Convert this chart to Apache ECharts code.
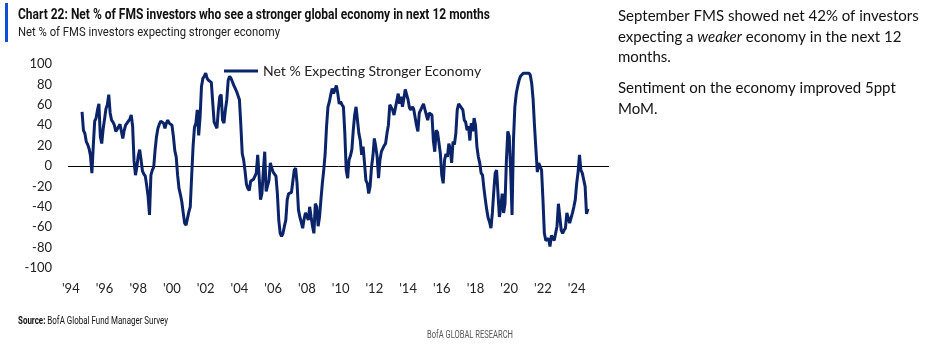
<!DOCTYPE html>
<html>
<head>
<meta charset="utf-8">
<script src="https://cdn.jsdelivr.net/npm/echarts@6/dist/echarts.min.js"></script>
<style>
html,body{margin:0;padding:0;background:#fff;}
#chart{width:945px;height:346px;}
</style>
</head>
<body>
<div id="chart"></div>
<script>
// ---- data (monthly, first value = Sep 1994, last = Sep 2024) ----
const firstYear = 1994, firstMonth = 9;
const axisStart = [1993, 11], axisEnd = [2025, 12];
const v1994 = [53, 35, 32, 24];
const v1995 = [21, 17, 10, -7, 20, 44, 47, 55, 61, 29, 22, 36];
const v1996 = [46, 56, 60, 70, 52, 45, 43, 40, 34, 36, 37, 41];
const v1997 = [42, 27, 35, 40, 41, 44, 46, 50, 39, 5, -9, -1];
const v1998 = [10, 16, 6, -5, -8, -10, -19, -30, -48, -9, -4, -1];
const v1999 = [16, 29, 37, 41, 44, 45, 42, 37, 42, 45, 42, 41];
const v2000 = [40, 29, 15, 9, -9, -22, -28, -35, -46, -56, -58, -58];
const v2001 = [-45, -40, -10, 19, 38, 42, 55, 30, 48, 78, 86, 88];
const v2002 = [91, 86, 84, 84, 82, 62, 43, 43, 37, 55, 68, 70];
const v2003 = [45, 42, 55, 65, 84, 88, 86, 86, 79, 76, 73, 74];
const v2004 = [65, 40, 12, 6, -5, -18, -22, -24, -15, -14, -13, -12];
const v2005 = [-7, 11, -10, -33, -27, -5, 14, -25, -24, -14, 3, -2];
const v2006 = [-6, -6, -10, -27, -53, -66, -69, -66, -59, -53, -33, -27];
const v2007 = [-27, -26, -25, -4, -2, -17, -43, -50, -55, -61, -52, -46];
const v2008 = [-45, -53, -40, -50, -59, -66, -37, -40, -59, -50, -33, -17];
const v2009 = [-4, 12, 39, 58, 63, 70, 76, 71, 75, 79, 71, 61];
const v2010 = [63, 60, 58, 32, -4, -12, 6, 10, 16, 35, 50, 58];
const v2011 = [45, 32, 25, 11, 19, 3, -14, -17, -27, -20, -1, 10];
const v2012 = [27, 19, 9, -12, 6, 14, 17, 20, 22, 32, 40, 60];
const v2013 = [61, 55, 50, 57, 64, 71, 61, 68, 58, 66, 75, 70];
const v2014 = [65, 57, 55, 58, 56, 55, 40, 34, 52, 55, 58, 61];
const v2015 = [60, 50, 45, 52, 51, 50, 25, 14, 35, 33, 32, 12];
const v2016 = [-9, -17, 6, 12, 9, 22, 17, 3, 24, 21, 32, 55];
const v2017 = [61, 60, 57, 55, 45, 43, 35, 39, 25, 42, 34, 47];
const v2018 = [40, 19, 9, 3, -7, -9, -22, -33, -43, -51, -55, -61];
const v2019 = [-46, -25, -7, -4, -27, -50, -40, -27, -46, -37, 6, 34];
const v2020 = [29, -4, -48, 25, 58, 71, 78, 84, 88, 89, 91, 91];
const v2021 = [91, 92, 91, 89, 81, 65, 39, 16, -6, 3, 4, -4];
const v2022 = [-33, -66, -73, -74, -71, -79, -68, -69, -73, -73, -59, -37];
const v2023 = [-50, -63, -66, -63, -61, -46, -46, -56, -55, -46, -40, -33];
const v2024 = [-17, -6, 11, -4, -7, -8, -20, -47, -42];
const seriesName = 'Net % Expecting Stronger Economy';
const yTicks = {min: -100, max: 100, step: 20};

const values = [].concat(v1994, v1995, v1996, v1997, v1998, v1999, v2000, v2001, v2002, v2003,
  v2004, v2005, v2006, v2007, v2008, v2009, v2010, v2011, v2012, v2013, v2014, v2015, v2016,
  v2017, v2018, v2019, v2020, v2021, v2022, v2023, v2024);

// month categories
const categories = [];
let y = axisStart[0], m = axisStart[1];
while (y < axisEnd[0] || (y === axisEnd[0] && m <= axisEnd[1])) {
  categories.push(y + '-' + String(m).padStart(2, '0'));
  m++; if (m > 12) { m = 1; y++; }
}
const firstKey = firstYear + '-' + String(firstMonth).padStart(2, '0');
const offset = categories.indexOf(firstKey);
const seriesData = categories.map((c, i) => {
  const k = i - offset;
  return (k >= 0 && k < values.length) ? values[k] : null;
});

// condensed text helper: scale horizontally to a target width
const mctx = document.createElement('canvas').getContext('2d');
function fitScale(text, font, target) {
  mctx.font = font;
  const w = mctx.measureText(text).width;
  return w > 0 ? target / w : 1;
}
const titleText = 'Chart 22: Net % of FMS investors who see a stronger global economy in next 12 months';
const titleFont = 'bold 14px Roboto';
const subText = 'Net % of FMS investors expecting stronger economy';
const subFont = '13px Roboto';
const srcB = 'Source:', srcN = ' BofA Global Fund Manager Survey';
const footText = 'BofA GLOBAL RESEARCH';
const footFont = '10px Roboto';
mctx.font = 'bold 10px Roboto'; const wb = mctx.measureText(srcB).width;
mctx.font = '10px Roboto'; const wn = mctx.measureText(srcN).width;
const srcScale = 150 / (wb + wn);

const chart = echarts.init(document.getElementById('chart'));
const axisFont = 'Lato';
chart.setOption({
  animation: false,
  grid: {left: 68, right: 336, top: 64, bottom: 78, containLabel: false},
  legend: {
    show: true, left: 219, top: 59, icon: 'rect', itemWidth: 34, itemHeight: 3,
    textStyle: {fontFamily: axisFont, fontSize: 14, color: '#222'},
    data: [seriesName]
  },
  xAxis: {
    type: 'category', data: categories, boundaryGap: false,
    axisLine: {show: false, onZero: false}, axisTick: {show: false},
    splitLine: {show: false},
    axisLabel: {
      margin: 14, fontFamily: axisFont, fontSize: 13, color: '#222',
      interval: (i, v) => v.endsWith('-01') && (parseInt(v) % 2 === 0),
      formatter: v => "'" + v.slice(2, 4)
    }
  },
  yAxis: {
    type: 'value', min: yTicks.min, max: yTicks.max, interval: yTicks.step,
    axisLine: {show: false}, axisTick: {show: false}, splitLine: {show: false},
    axisLabel: {margin: 16, fontFamily: axisFont, fontSize: 13, color: '#222'}
  },
  series: [{
    name: seriesName, type: 'line', data: seriesData, showSymbol: false,
    lineStyle: {width: 3, color: '#0B2469'}, itemStyle: {color: '#0B2469'},
    z: 3,
    markLine: {
      silent: true, symbol: ['none', 'none'], label: {show: false},
      lineStyle: {color: '#000', width: 1, type: 'solid'},
      data: [{yAxis: 0}], z: 1
    }
  }],
  graphic: [
    {type: 'rect', x: 5, y: 3, shape: {width: 3, height: 39}, style: {fill: '#0A4FD6'}},
    {type: 'text', x: 18, y: 15, scaleX: fitScale(titleText, titleFont, 472), style: {
      text: titleText, font: titleFont, fill: '#111', textVerticalAlign: 'middle'}},
    {type: 'text', x: 18, y: 33, scaleX: fitScale(subText, subFont, 262), style: {
      text: subText, font: subFont, fill: '#222', textVerticalAlign: 'middle'}},
    {type: 'text', x: 618, y: 6, style: {
      rich: {n: {fontFamily: 'Lato', fontSize: 15, lineHeight: 20.5, fill: '#111'},
             i: {fontFamily: 'Lato', fontSize: 15, lineHeight: 20.5, fontStyle: 'italic', fill: '#111'}},
      text: '{n|September FMS showed net 42% of investors}\n{n|expecting a }{i|weaker}{n| economy in the next 12}\n{n|months.}'}},
    {type: 'text', x: 618, y: 78, style: {
      rich: {n: {fontFamily: 'Lato', fontSize: 15, lineHeight: 20.5, fill: '#111'}},
      text: '{n|Sentiment on the economy improved 5ppt}\n{n|MoM.}'}},
    {type: 'text', x: 18, y: 321, scaleX: srcScale, style: {
      rich: {b: {fontFamily: 'Roboto', fontSize: 10, fontWeight: 'bold', fill: '#111'},
             n: {fontFamily: 'Roboto', fontSize: 10, fill: '#111'}},
      text: '{b|' + srcB + '}{n|' + srcN + '}', textVerticalAlign: 'middle'}},
    {type: 'text', x: 427, y: 335, scaleX: fitScale(footText, footFont, 86), style: {
      text: footText, font: footFont, fill: '#555', textVerticalAlign: 'middle'}}
  ]
});
</script>
</body>
</html>
